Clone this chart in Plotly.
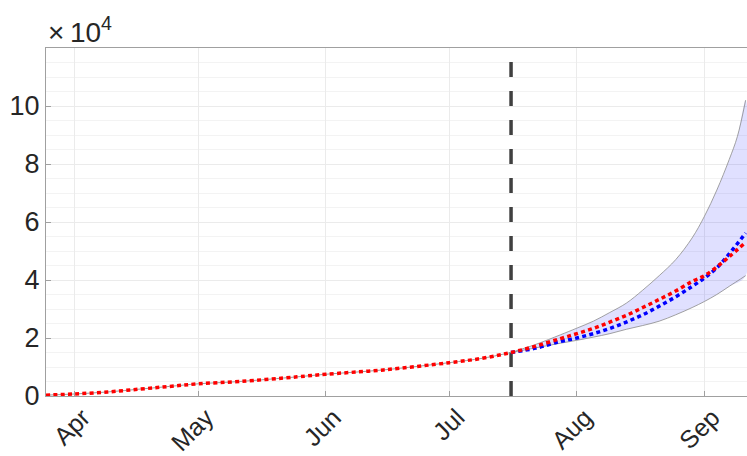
import plotly.graph_objects as go

# Fitted / observed curve up to the cut-off date (cases)
fit_dates = ["2020-03-25", "2020-04-01", "2020-04-09", "2020-04-17", "2020-04-24",
             "2020-05-01", "2020-05-11", "2020-05-25", "2020-06-01", "2020-06-15",
             "2020-07-01", "2020-07-09", "2020-07-16"]
fit_values = [300, 700, 1400, 2400, 3300, 4200, 5000, 6600, 7500, 9000,
              11500, 13000, 15000]

# Projection period
proj_dates = ["2020-07-16", "2020-07-22", "2020-07-28", "2020-08-01", "2020-08-05",
              "2020-08-09", "2020-08-13", "2020-08-17", "2020-08-21", "2020-08-25",
              "2020-08-29", "2020-09-01", "2020-09-04", "2020-09-07", "2020-09-11"]
red_proj = [15000, 17200, 19800, 21500, 23300, 25500, 27800, 30500, 33300, 36200,
            39500, 41500, 44500, 48000, 53000]
blue_proj = [15000, 16500, 18800, 20000, 21500, 23300, 25500, 28000, 31000, 34200,
             37800, 40700, 44200, 49000, 56200]
lower_band = [15000, 16600, 18200, 19200, 20300, 21500, 23000, 24300, 25800, 28000,
              30500, 32600, 35000, 37800, 41500]

upper_dates = ["2020-07-16", "2020-07-22", "2020-07-28", "2020-08-01", "2020-08-05",
               "2020-08-09", "2020-08-13", "2020-08-17", "2020-08-21", "2020-08-25",
               "2020-08-29", "2020-09-01", "2020-09-04", "2020-09-07", "2020-09-09",
               "2020-09-11"]
upper_band = [15000, 17800, 21100, 23400, 25800, 28800, 32000, 36500, 41500, 47000,
              54500, 62000, 71000, 81500, 89500, 102000]

cutoff_date = "2020-07-16"
y_ticks = [0, 20000, 40000, 60000, 80000, 100000]
y_tick_labels = ["0", "2", "4", "6", "8", "10"]

fig = go.Figure()

# Confidence band
band_x = upper_dates + proj_dates[::-1]
band_y = upper_band + lower_band[::-1]
fig.add_trace(go.Scatter(x=band_x, y=band_y, mode="lines", fill="toself",
                         fillcolor="rgba(0,0,255,0.12)",
                         line=dict(width=0, shape="spline"),
                         showlegend=False, hoverinfo="skip"))
fig.add_trace(go.Scatter(x=proj_dates, y=lower_band, mode="lines",
                         line=dict(color="#8a8a8a", width=0.8, shape="spline"),
                         showlegend=False, hoverinfo="skip"))
fig.add_trace(go.Scatter(x=upper_dates, y=upper_band, mode="lines",
                         line=dict(color="#8a8a8a", width=0.8, shape="spline"),
                         showlegend=False, hoverinfo="skip"))

# Cut-off vertical dashed line
fig.add_trace(go.Scatter(x=[cutoff_date, cutoff_date], y=[0, 117500], mode="lines",
                         line=dict(color="#404040", width=3.5, dash="15px,14px"),
                         showlegend=False))

# Observed (thin grey)
fig.add_trace(go.Scatter(x=fit_dates, y=fit_values, mode="lines",
                         line=dict(color="#9a9a9a", width=1, shape="spline"),
                         showlegend=False))

# Blue projection
fig.add_trace(go.Scatter(x=proj_dates, y=blue_proj, mode="lines",
                         line=dict(color="#0000ff", width=3.5, dash="4px,3.3px", shape="spline"),
                         showlegend=False))
# Red fit + projection
fig.add_trace(go.Scatter(x=fit_dates + proj_dates[1:], y=fit_values + red_proj[1:],
                         mode="lines",
                         line=dict(color="#ff0000", width=3.5, dash="4px,3.3px", shape="spline"),
                         showlegend=False))

fig.add_annotation(xref="paper", yref="paper", x=0.0, y=1.0, xanchor="left",
                   yanchor="bottom", yshift=-2, xshift=0, text="×\u200910<sup>4</sup>",
                   showarrow=False, font=dict(size=28, color="#262626"))

fig.update_layout(
    width=747, height=456,
    margin=dict(l=46, r=0, t=48, b=60, autoexpand=False),
    paper_bgcolor="white", plot_bgcolor="white",
    font=dict(family="Liberation Sans, Arial, sans-serif", color="#262626"),
    xaxis=dict(range=["2020-03-25", "2020-09-11 08:00"], type="date",
               dtick="M1", tick0="2020-04-01", tickformat="%b", tickangle=-45,
               showgrid=True, gridcolor="#ebebeb", gridwidth=1,
               ticks="inside", ticklen=5, tickcolor="#a0a0a0",
               showline=True, linecolor="#a0a0a0", linewidth=1, mirror=True,
               tickfont=dict(size=25), zeroline=False, automargin=False,
               ticklabelshift=8, ticklabelstandoff=-4),
    yaxis=dict(range=[0, 120000], tickvals=y_ticks, ticktext=y_tick_labels,
               showgrid=True, gridcolor="#ebebeb", gridwidth=1,
               minor=dict(dtick=5000, showgrid=True, gridcolor="#f3f3f3", ticks=""),
               ticks="inside", ticklen=5, tickcolor="#a0a0a0",
               showline=True, linecolor="#a0a0a0", linewidth=1, mirror=True,
               tickfont=dict(size=27), zeroline=False, automargin=False),
)

fig.write_html("out.html", config={"displayModeBar": False},
               post_script="document.body.style.margin='0';"
                           "document.body.style.overflow='hidden';")
